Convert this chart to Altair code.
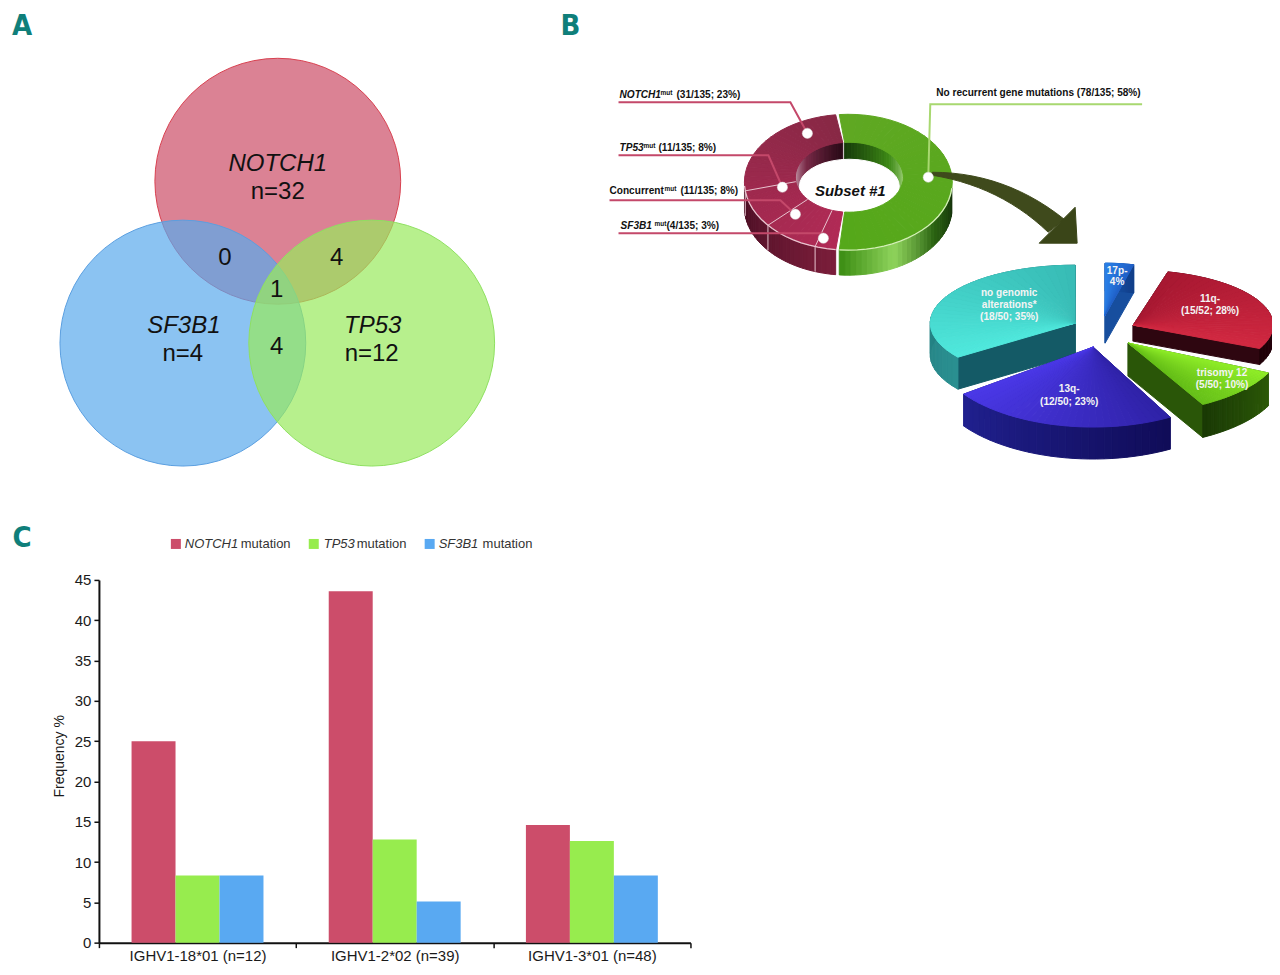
import math
import altair as alt
import pandas as pd

FONT = "Liberation Sans"
LEFT, RIGHT, TOP, BOTTOM = 98, 1272, 8, 572

# ---------- panel A ----------
venn_sets = ["NOTCH1", "SF3B1", "TP53"]
venn_x = [277, 182, 371]
venn_y = [181, 343, 343]
venn_diam = [246, 246, 246]
venn_fill = ["#cc4d66", "#5aa9ec", "#99e95c"]
venn_edge = ["#d8404f", "#5a9fe0", "#8fe060"]
venn_names = [("NOTCH1", 277, 164), ("SF3B1", 183, 326), ("TP53", 372, 326)]
venn_counts = [("n=32", 277, 192), ("n=4", 182, 354), ("n=12", 371, 354),
               ("0", 224, 258), ("4", 336, 258), ("1", 276, 290), ("4", 276, 347)]

# ---------- panel B ----------
donut_mut_labels = ["NOTCH1", "TP53", "Concurrent", "SF3B1"]
donut_mut_counts = [31, 11, 11, 4]
donut_none_count = 78
pie_labels = ["17p-", "11q-", "trisomy 12", "13q-", "no genomic alterations*"]
pie_share = [4, 28, 10, 23, 35]

# ---------- panel C ----------
groups = ["IGHV1-18*01 (n=12)", "IGHV1-2*02 (n=39)", "IGHV1-3*01 (n=48)"]
notch1 = [25.0, 43.6, 14.6]
tp53 = [8.33, 12.8, 12.6]
sf3b1 = [8.33, 5.1, 8.33]
series = ["NOTCH1 mutation", "TP53 mutation", "SF3B1 mutation"]
series_colors = ["#cc4d6a", "#97ec4e", "#59a9f2"]

X = alt.Scale(domain=[LEFT, RIGHT], zero=False, nice=False)
Y = alt.Scale(domain=[BOTTOM, TOP], zero=False, nice=False)


def lerp(c0, c1, t):
    a = [int(c0[i:i + 2], 16) for i in (1, 3, 5)]
    b = [int(c1[i:i + 2], 16) for i in (1, 3, 5)]
    return "#%02x%02x%02x" % tuple(round(p + (q - p) * t) for p, q in zip(a, b))


def ell(cx, cy, rx, ry, deg):
    r = math.radians(deg)
    return (cx + rx * math.sin(r), cy - ry * math.cos(r))


def poly(pts, color):
    ring = [list(p) for p in pts] + [list(pts[0])]
    return {"type": "Feature", "geometry": {"type": "Polygon", "coordinates": [ring]},
            "properties": {"c": color}}


def line(pts, color):
    return {"type": "Feature", "geometry": {"type": "LineString", "coordinates": [list(p) for p in pts]},
            "properties": {"c": color}}


def steps(a0, a1, n):
    return [a0 + (a1 - a0) * i / n for i in range(n + 1)]


shapes = []


def ring_face(o, i, a0, a1, c0, c1, n=24):
    an = steps(a0, a1, n)
    for k in range(n):
        shapes.append(poly([ell(*o, an[k]), ell(*o, an[k + 1]), ell(*i, an[k + 1]), ell(*i, an[k])],
                           lerp(c0, c1, k / (n - 1))))


def wall(e, depth, a0, a1, stops, n=30):
    an = steps(a0, a1, n)
    for k in range(n):
        p, q = ell(*e, an[k]), ell(*e, an[k + 1])
        t = k / (n - 1) * (len(stops) - 1)
        j = min(int(t), len(stops) - 2)
        shapes.append(poly([p, q, (q[0], q[1] + depth), (p[0], p[1] + depth)],
                           lerp(stops[j], stops[j + 1], t - j)))


# --- donut: the mutated share is drawn on the left half, as in the figure
OUT = (848, 182, 104, 68)
INN = (849, 177, 54, 35)
DEPTH = 25
GREEN_SPAN = (-5, 185)
RED_SPAN = (187, 353)

wall(OUT, DEPTH, 187, 268, ["#7a1d3a", "#4a0f24"])
wall(OUT, DEPTH, 95, 185, ["#14300a", "#2b6412", "#8fd45c", "#3f9016"])
wall(INN, DEPTH, -5, 100, ["#173d0a", "#3e8a16", "#bfe89a"])
wall(INN, DEPTH, 262, 353, ["#f0d8e0", "#7a2a48", "#2c0a18"])
shapes.append(poly([ell(849, 186, 50, 27, a) for a in range(0, 360, 10)], "#ffffff"))

span = RED_SPAN[1] - RED_SPAN[0]
red_bounds = [RED_SPAN[1]]
for v in donut_mut_counts:
    red_bounds.append(red_bounds[-1] - span * v / sum(donut_mut_counts))
ring_face(OUT, INN, RED_SPAN[1], RED_SPAN[0], "#882845", "#b02a55", 40)
ring_face(OUT, INN, GREEN_SPAN[0], GREEN_SPAN[1], "#5fa822", "#55a81a", 40)

# --- exploded 3-D pie, back to front
pie_geom = {
    "no genomic alterations*": dict(c=(1075, 323), r=(145, 58), d=32, top=("#4fe8dc", "#38bcb6"),
                                    side=("#2a8f90", "#1c6c70"), cut="#145a66"),
    "17p-": dict(c=(1105, 315), r=(115, 52), d=28, top=("#2a80e8", "#2060c8"),
                 side=("#1a58b0", "#123f8a"), cut="#174e9e"),
    "11q-": dict(c=(1133, 325), r=(140, 55), d=16, top=("#a81832", "#d02840"),
                 side=("#3a0a14", "#200008"), cut="#2e0610"),
    "trisomy 12": dict(c=(1128, 343), r=(155, 70), d=33, top=("#90ee28", "#66c018"),
                       side=("#2d5a08", "#1a3a05"), cut="#2a5608"),
    "13q-": dict(c=(1093, 347), r=(160, 80), d=32, top=("#2f22a8", "#4a38e6"),
                 side=("#100c58", "#20208e"), cut="#1a1680"),
}
start = 0
angles = {}
for name, share in zip(pie_labels, pie_share):
    angles[name] = (start, start + 360 * share / 100)
    start += 360 * share / 100

for name in ["no genomic alterations*", "17p-", "11q-", "trisomy 12", "13q-"]:
    g = pie_geom[name]
    a0, a1 = angles[name]
    e = (*g["c"], *g["r"])
    for a in (a0, a1):
        p = ell(*e, a)
        ap = g["c"]
        shapes.append(poly([ap, p, (p[0], p[1] + g["d"]), (ap[0], ap[1] + g["d"])], g["cut"]))
    wall(e, g["d"], a0, a1, list(g["side"]), 30)
    an = steps(a0, a1, 30)
    for k in range(30):
        shapes.append(poly([g["c"], ell(*e, an[k]), ell(*e, an[k + 1])],
                           lerp(g["top"][0], g["top"][1], k / 29)))


def bez(p0, p1, p2, n=14):
    out = []
    for i in range(n + 1):
        t = i / n
        out.append(((1 - t) ** 2 * p0[0] + 2 * t * (1 - t) * p1[0] + t * t * p2[0],
                    (1 - t) ** 2 * p0[1] + 2 * t * (1 - t) * p1[1] + t * t * p2[1]))
    return out


arrow_top = bez((932, 172), (1005, 172), (1064, 219))
arrow_bottom = bez((1048, 232), (1000, 186), (932, 175))
shapes.append(poly(arrow_top + arrow_bottom, "#3f4a1c"))
shapes.append(poly([(1075, 207), (1077, 243), (1039, 243)], "#3a4518"))

lines = []
for pts in ([(618, 102), (790, 102), (807, 133)],
            [(618, 155), (768, 155), (782, 187)],
            [(609, 200), (780, 200), (795, 214)],
            [(618, 233), (822, 233), (823, 238)]):
    lines.append(line(pts, "#c4486a"))
lines.append(line([(1142, 104), (930, 104), (928, 177)], "#a8d870"))
separators = []
for a in red_bounds[1:4]:
    separators.append(line([ell(*INN, a), ell(*OUT, a), (ell(*OUT, a)[0], ell(*OUT, a)[1] + DEPTH)], "#e8c4cf"))
rims = [line([ell(*OUT, a) for a in range(95, 186, 5)], "#d4efb8"),
        line([ell(*OUT, a) for a in range(187, 272, 5)], "#e8c4cf")]

PROJ = dict(type="identity", scale=1, translate=[-LEFT, -TOP])


def geo(features, filled=True, width=1.0):
    c = alt.Chart(alt.Data(values=features))
    if filled:
        return c.mark_geoshape(strokeWidth=width).encode(
            fill=alt.Color("properties.c:N", scale=None),
            stroke=alt.Stroke("properties.c:N", scale=None)).project(**PROJ)
    return c.mark_geoshape(filled=False, strokeWidth=width).encode(
        stroke=alt.Stroke("properties.c:N", scale=None)).project(**PROJ)


def txt(rows, size, color="#111111", font=FONT, weight="normal", style="normal", align="center"):
    df = pd.DataFrame(rows, columns=["t", "x", "y"])
    return alt.Chart(df).mark_text(fontSize=size, color=color, font=font, fontWeight=weight,
                                   fontStyle=style, align=align, baseline="middle").encode(
        x=alt.X("x:Q", scale=X, axis=None), y=alt.Y("y:Q", scale=Y, axis=None), text="t:N")


venn_df = pd.DataFrame({"s": venn_sets, "x": venn_x, "y": venn_y,
                        "a": [d * d for d in venn_diam], "f": venn_fill, "e": venn_edge})
venn = alt.Chart(venn_df).mark_point(filled=True, shape="circle", fillOpacity=0.7, strokeWidth=1).encode(
    x=alt.X("x:Q", scale=X, axis=None), y=alt.Y("y:Q", scale=Y, axis=None),
    size=alt.Size("a:Q", scale=None), fill=alt.Color("f:N", scale=None),
    stroke=alt.Stroke("e:N", scale=None), order="s:N")

dots = alt.Chart(pd.DataFrame({"x": [807, 782, 795, 823, 928], "y": [133, 187, 214, 238, 177]})).mark_circle(
    size=105, color="#ffffff", opacity=1, stroke="#dddddd", strokeWidth=0.5).encode(
    x=alt.X("x:Q", scale=X, axis=None), y=alt.Y("y:Q", scale=Y, axis=None))

legend_df = pd.DataFrame({"x": [175, 313, 429], "y": [544, 544, 544], "c": series_colors})
legend_sq = alt.Chart(legend_df).mark_square(size=100, opacity=1).encode(
    x=alt.X("x:Q", scale=X, axis=None), y=alt.Y("y:Q", scale=Y, axis=None),
    color=alt.Color("c:N", scale=None))

LAB = 10.1
top = alt.layer(
    venn,
    txt(venn_names, 24, style="italic"),
    txt(venn_counts, 24),
    geo(shapes),
    geo(rims, filled=False, width=1.3),
    geo(separators, filled=False, width=1),
    geo(lines, filled=False, width=2),
    dots,
    txt([("Subset #1", 850, 191)], 15, weight="bold", style="italic"),
    txt([("NOTCH1", 619, 95), ("TP53", 619, 148), ("SF3B1", 620, 226)], LAB, weight="bold", style="italic", align="left"),
    txt([("Concurrent", 609, 191), ("(31/135; 23%)", 676, 95), ("(11/135; 8%)", 658, 148),
         ("(11/135; 8%)", 680, 191), ("(4/135; 3%)", 666, 226),
         ("No recurrent gene mutations (78/135; 58%)", 936, 93)], LAB, weight="bold", align="left"),
    txt([("mut", 660, 93), ("mut", 643, 146), ("mut", 664, 189), ("mut", 654, 224)], 6.5, weight="bold", align="left"),
    txt([("no genomic", 1009, 293), ("alterations*", 1009, 305), ("(18/50; 35%)", 1009, 317),
         ("17p-", 1117, 271), ("4%", 1117, 282), ("11q-", 1210, 299), ("(15/52; 28%)", 1210, 311),
         ("trisomy 12", 1222, 373), ("(5/50; 10%)", 1222, 385), ("13q-", 1069, 389), ("(12/50; 23%)", 1069, 402)],
        LAB, color="#f4f4f4", weight="bold"),
    txt([("A", 21, 26), ("B", 570, 26), ("C", 21, 538)], 29, color="#0f7f7a",
        font="DejaVu Sans Condensed, Liberation Sans", weight="bold"),
    legend_sq,
    txt([("NOTCH1", 184, 544), ("TP53", 323, 544), ("SF3B1", 438, 544)], 13, color="#333333", style="italic", align="left"),
    txt([("mutation", 240, 544), ("mutation", 356, 544), ("mutation", 482, 544)], 13, color="#333333", align="left"),
).properties(width=RIGHT - LEFT, height=BOTTOM - TOP)

rows = []
for g, a, b, c in zip(groups, notch1, tp53, sf3b1):
    rows += [(g, series[0], a), (g, series[1], b), (g, series[2], c)]
bar_df = pd.DataFrame(rows, columns=["g", "s", "v"])

bars = alt.Chart(bar_df).mark_bar().encode(
    x=alt.X("g:N", sort=groups, title=None,
            scale=alt.Scale(padding=0),
            axis=alt.Axis(labelAngle=0, labelFontSize=15, labelFont=FONT, labelColor="#1a1a1a", labelPadding=1,
                          tickBand="extent", tickSize=5, tickWidth=1.5, tickColor="#111111",
                          domainColor="#111111", domainWidth=2, grid=False)),
    xOffset=alt.XOffset("s:N", sort=series, scale=alt.Scale(paddingInner=0, paddingOuter=0.742)),
    y=alt.Y("v:Q", title="Frequency %", scale=alt.Scale(domain=[0, 45], nice=False),
            axis=alt.Axis(values=list(range(0, 50, 5)), labelFontSize=15, labelFont=FONT, labelColor="#1a1a1a",
                          labelPadding=3, tickSize=5, tickWidth=1.5, tickColor="#111111", domainColor="#111111",
                          domainWidth=2, grid=False, titleFont=FONT, titleFontSize=14, titleFontWeight="normal",
                          titleColor="#1a1a1a", titlePadding=8, titleY=176)),
    color=alt.Color("s:N", sort=series, legend=None, scale=alt.Scale(domain=series, range=series_colors)),
).properties(width=592, height=363)

chart = alt.vconcat(top, bars, spacing=1).properties(
    padding={"left": 3, "top": 0, "right": 0, "bottom": 0}
).configure_view(stroke=None)

chart.save("out.html", embed_options={"renderer": "svg", "actions": False})
